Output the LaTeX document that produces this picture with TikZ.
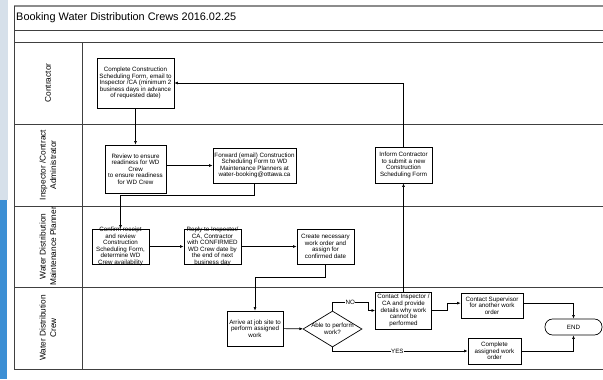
\documentclass[tikz,border=0pt]{standalone}
\usepackage{fontspec}
\setmainfont{Liberation Sans}
\usetikzlibrary{arrows.meta,shapes.geometric,positioning}
\definecolor{stripgray}{RGB}{214,224,234}
\definecolor{stripblue}{RGB}{60,143,212}
\newcommand{\boxfont}{\fontsize{5.3}{5.6}\selectfont}
\newcommand{\lanefont}{\fontsize{7.1}{9}\selectfont}

\begin{document}
\begin{tikzpicture}[
  x=0.03cm, y=-0.03cm,
  >={Latex[length=3pt,width=2.4pt]},
  box/.style={draw, rectangle, line width=0.6pt, align=center, inner sep=1pt, font=\boxfont},
  decision/.style={draw, diamond, line width=0.6pt, inner sep=0pt},
  lanelabel/.style={rotate=90, align=center, font=\lanefont},
  flow/.style={->, line width=0.5pt},
  tag/.style={fill=white, font=\boxfont, inner sep=0.5pt},
  frameline/.style={draw=black!75, line width=0.6pt},
  ]
  \useasboundingbox (0,0) rectangle (603,379);
  \fill[stripgray] (0,0) rectangle (8,200);
  \fill[stripblue] (0,200) rectangle (7,379);

  % swimlane frame
  \draw[draw=black!45, line width=1pt] (14,6) -- (603,6);
  \draw[frameline] (14,6) -- (14,369);
  \foreach \y in {30,42,124,206,287,369}
    \draw[frameline] (14,\y) -- (603,\y);
  \draw[frameline] (82,42) -- (82,369);

  \node[anchor=west, inner sep=0pt, font=\fontsize{9.3}{11}\selectfont] (title) at (16,18) {Booking Water Distribution Crews 2016.02.25};

  \node[lanelabel] (contractor) at (48,83) {Contractor};
  \node[lanelabel] (ica) at (48,165) {Inspector /Contract\\Administrator};
  \node[lanelabel] (planner) at (48,246.5) {Water Distribution\\Maintenance Planner};
  \node[lanelabel] (crew) at (48,328) {Water Distribution\\Crew};

  \node[box, minimum width=2.31cm, minimum height=1.5cm] (complete) at (135.5,83) {Complete Construction\\Scheduling Form, email to\\Inspector /CA (minimum 2\\business days in advance\\of requested date)};
  \node[box, minimum width=1.83cm, minimum height=1.44cm] (review) at (135.5,169) {Review to ensure\\readiness for WD\\Crew\\to ensure readiness\\for WD Crew};
  \node[box, minimum width=2.49cm, minimum height=1.05cm] (forward) at (254.5,165.5) {Forward (email) Construction\\Scheduling Form to WD\\Maintenance Planners at\\water-booking@ottawa.ca};
  \node[box, minimum width=1.71cm, minimum height=1.08cm] (inform) at (403.5,165) {Inform Contractor\\to submit a new\\Construction\\Scheduling Form};
  \node[box, minimum width=1.71cm, minimum height=1.05cm, inner ysep=-2pt] (confirm) at (120.5,246.5) {Confirm receipt\\and review\\Construction\\Scheduling Form,\\determine WD\\Crew availability};
  \node[box, minimum width=1.71cm, minimum height=1.05cm, inner ysep=-2pt] (reply) at (212.5,246.5) {Reply to Inspector/\\CA, Contractor\\with CONFIRMED\\WD Crew date by\\the end of next\\business day};
  \node[box, minimum width=1.71cm, minimum height=1.05cm] (create) at (325.5,246.5) {Create necessary\\work order and\\assign for\\confirmed date};
  \node[box, minimum width=1.68cm, minimum height=1.05cm] (arrive) at (255,328.5) {Arrive at job site to\\perform assigned\\work};
  \node[decision, minimum width=1.77cm, minimum height=1.08cm, label={[font=\boxfont, align=center]center:Able to perform\\work?}] (able) at (332.5,329) {};
  \node[box, minimum width=1.68cm, minimum height=1.11cm] (inspector) at (403.5,310.5) {Contact Inspector /\\CA and provide\\details why work\\cannot be\\performed};
  \node[box, minimum width=1.86cm, minimum height=0.75cm] (supervisor) at (492,305.5) {Contact Supervisor\\for another work\\order};
  \node[box, rounded corners=6.5pt, minimum width=1.71cm, minimum height=0.48cm] (finish) at (573.5,327) {END};
  \node[box, minimum width=1.59cm, minimum height=0.78cm] (assigned) at (494.5,351) {Complete\\assigned work\\order};

  \draw[flow] (complete) -- (review);
  \draw[flow] (review.east |- forward) -- (forward.west);
  \draw[flow] (forward.south) -- ++(0,12) -| (confirm.north);
  \draw[flow] (confirm) -- (reply);
  \draw[flow] (reply) -- (create);
  \draw[flow] (create.south) -- ++(0,13) -| (arrive.north);
  \draw[flow] (arrive) -- (able);
  \draw[flow] (able.north) -- ++(0,-8) -- node[tag]{NO} ++(35.5,0) |- (inspector.west);
  \draw[flow] (able.south) |- node[tag, pos=0.74]{YES} (assigned.west);
  \draw[flow] (inspector) -- (inform);
  \draw[flow] (inform.north) |- (complete.east);
  \draw[flow] (inspector.east) -- ++(15,0) |- ([yshift=2pt]supervisor.west);
  \draw[flow] ([yshift=2pt]supervisor.east) -| (finish.north);
  \draw[flow] (assigned.east) -| (finish.south);

\end{tikzpicture}
\end{document}
